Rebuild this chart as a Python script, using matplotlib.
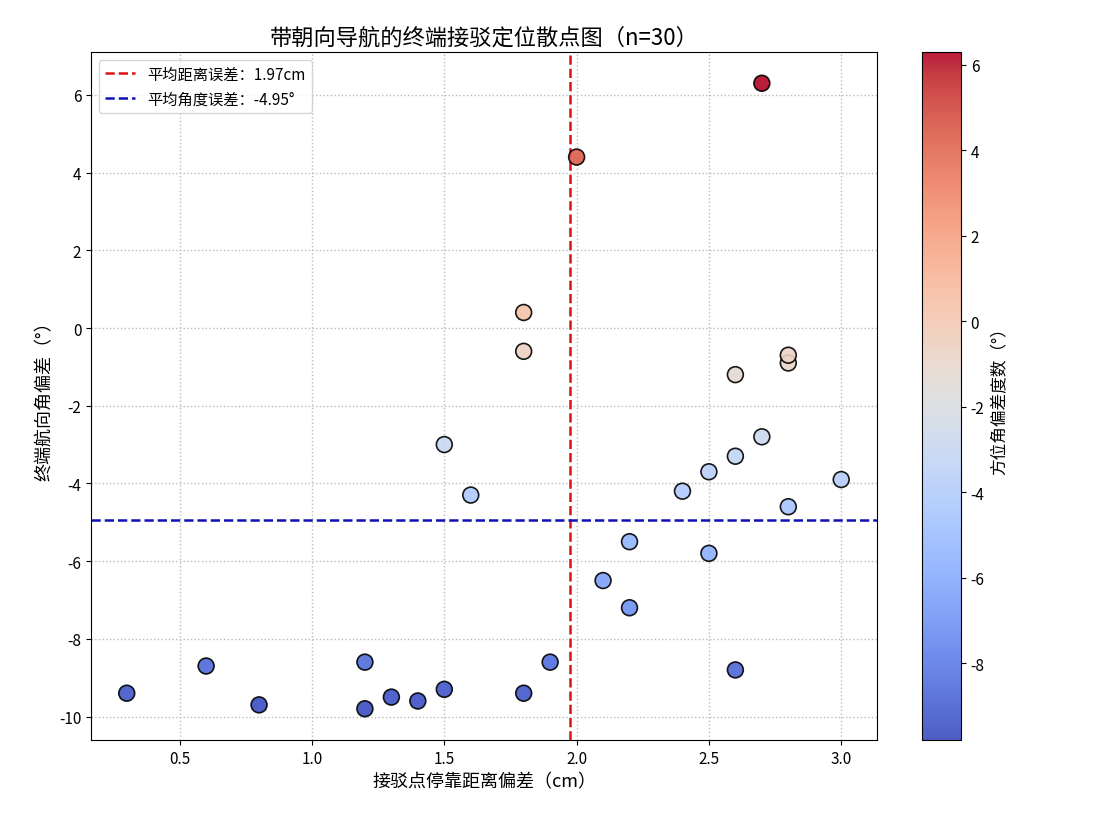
import numpy as np
import matplotlib
matplotlib.use("Agg")
import matplotlib.pyplot as plt

plt.rcParams['font.family'] = ['Noto Sans CJK SC', 'DejaVu Sans']
plt.rcParams['axes.unicode_minus'] = False

# 接驳点停靠距离偏差 (cm)
dist_err = [0.3, 0.6, 0.8, 1.2, 1.2, 1.3, 1.4, 1.5, 1.5, 1.6,
            1.8, 1.8, 1.8, 1.9, 2.0, 2.1, 2.2, 2.2, 2.4, 2.5,
            2.5, 2.6, 2.6, 2.6, 2.7, 2.7, 2.8, 2.8, 2.8, 3.0]
# 终端航向角偏差 (°)
angle_err = [-9.4, -8.7, -9.7, -8.6, -9.8, -9.5, -9.6, -9.3, -3.0, -4.3,
             0.4, -0.6, -9.4, -8.6, 4.4, -6.5, -5.5, -7.2, -4.2, -3.7,
             -5.8, -1.2, -3.3, -8.8, 6.3, -2.8, -0.9, -0.7, -4.6, -3.9]

x = np.array(dist_err)
y = np.array(angle_err)
mean_x = x.mean()
mean_y = y.mean()

fig = plt.figure(figsize=(10.94, 8.2), dpi=100)
ax = fig.add_axes([0.0832, 0.0963, 0.7184, 0.8391])
cax = fig.add_axes([0.8428, 0.0963, 0.0356, 0.8391])

sc = ax.scatter(x, y, c=y, cmap='coolwarm', s=130, edgecolors='black',
                linewidths=1.2, alpha=0.9, zorder=3)

ax.axvline(mean_x, color='#dd1111', linestyle='--', linewidth=1.8,
           label=f'平均距离误差：{mean_x:.2f}cm', zorder=2)
ax.axhline(mean_y, color='#1010b8', linestyle='--', linewidth=1.8,
           label=f'平均角度误差：{mean_y:.2f}°', zorder=2)

ax.set_title(f'带朝向导航的终端接驳定位散点图（n={len(x)}）', fontsize=16)
ax.set_xlabel('接驳点停靠距离偏差（cm）', fontsize=13)
ax.set_ylabel('终端航向角偏差（°）', fontsize=13)
ax.tick_params(labelsize=11)
ax.grid(True, linestyle=':', color='#bbbbbb', linewidth=1)
ax.legend(loc='upper left', fontsize=11)

cb = fig.colorbar(sc, cax=cax)
cb.set_label('方位角偏差度数（°）', fontsize=12)
cb.ax.tick_params(labelsize=11)

fig.savefig('out.png', dpi=100)
